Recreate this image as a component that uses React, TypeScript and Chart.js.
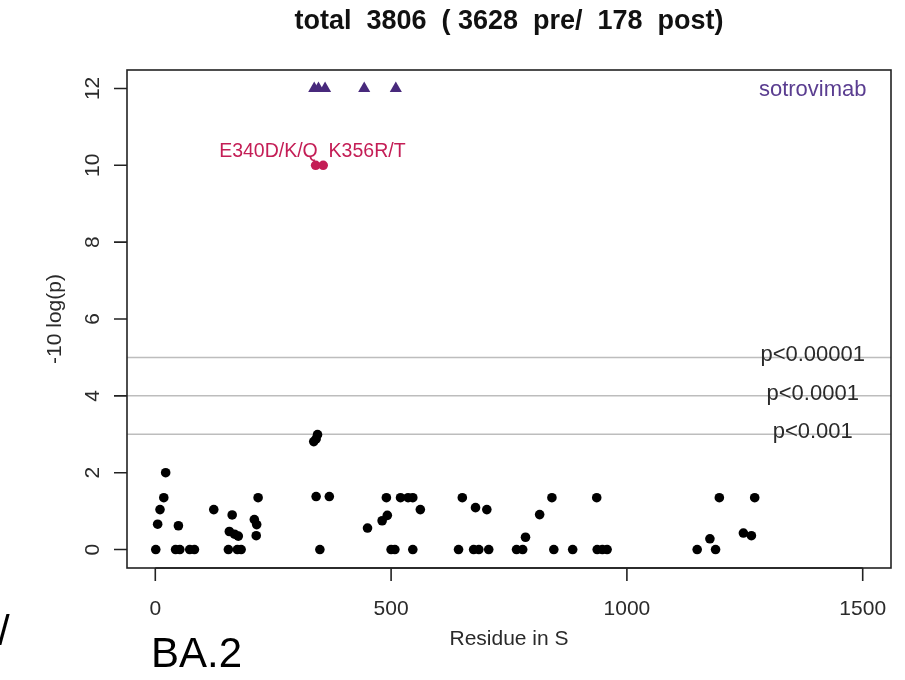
import React, { useEffect, useRef } from "react";
import { Chart, registerables } from "chart.js";

Chart.register(...registerables);

// ---------- data ----------
const titleText = "total  3806  ( 3628  pre/  178  post)";
const xAxisTitle = "Residue in S";
const yAxisTitle = "-10 log(p)";
const xTicks = [0, 500, 1000, 1500];
const yTicks = [0, 2, 4, 6, 8, 10, 12];
const xMin = -60;
const xMax = 1560;
const yMin = -0.48;
const yMax = 12.48;

const thresholdValues = [5, 4, 3];
const thresholdLabels = ["p<0.00001", "p<0.0001", "p<0.001"];
const labelColumnX = 1394;

const blackX = [
  1, 43, 52, 73, 83, 155, 174, 182, 349, 500, 508, 546, 643, 675, 686, 707, 766, 779, 845, 885, 937, 948, 958, 1149, 1188,
  5, 10, 18, 22, 49, 124, 163, 157, 168, 176, 218, 210, 215, 214,
  336, 341, 344, 341, 369, 450, 481, 492, 490, 520, 536, 546, 562,
  651, 679, 703, 785, 815, 841, 936, 1176, 1196, 1247, 1264, 1271,
];
const blackY = [
  0, 0, 0, 0, 0, 0, 0, 0, 0, 0, 0, 0, 0, 0, 0, 0, 0, 0, 0, 0, 0, 0, 0, 0, 0,
  0.66, 1.04, 1.35, 2.0, 0.62, 1.04, 0.9, 0.47, 0.4, 0.35, 1.35, 0.78, 0.65, 0.36,
  2.81, 2.88, 2.99, 1.38, 1.38, 0.56, 0.75, 0.89, 1.35, 1.35, 1.35, 1.35, 1.04,
  1.35, 1.09, 1.04, 0.32, 0.91, 1.35, 1.35, 0.28, 1.35, 0.43, 0.36, 1.35,
];

const redX = [340, 356];
const redY = [10, 10];
const redLabel = "E340D/K/Q  K356R/T";
const redLabelX = 333;

const triX = [337, 346, 360, 443, 510];
const triY = [12, 12, 12, 12, 12];
const antibodyName = "sotrovimab";

const panelLabel = "BA.2";
const edgeLabel = "/";

// ---------- styles ----------
const FONT = "'Liberation Sans', Arial, Helvetica, sans-serif";
const TEXT = "#2a2a2a";
const RED = "#c41e56";
const PURPLE = "#48297c";
const PURPLE_TEXT = "#5a3d90";
const GRID = "#bdbdbd";

const toPts = (xs: number[], ys: number[]) => xs.map((x, i) => ({ x, y: ys[i] }));

const overlay = {
  id: "overlay",
  afterDraw(chart: any) {
    const { ctx, chartArea: a, scales } = chart;
    const xs = scales.x;
    const ys = scales.y;
    ctx.save();

    // box
    ctx.strokeStyle = "#222";
    ctx.lineWidth = 1.6;
    ctx.strokeRect(a.left, a.top, a.right - a.left, a.bottom - a.top);

    // ticks
    ctx.beginPath();
    const xa = xs.getPixelForValue(xTicks[0]);
    const xb = xs.getPixelForValue(xTicks[xTicks.length - 1]);
    ctx.moveTo(xa, a.bottom);
    ctx.lineTo(xb, a.bottom);
    xTicks.forEach((v) => {
      const px = xs.getPixelForValue(v);
      ctx.moveTo(px, a.bottom);
      ctx.lineTo(px, a.bottom + 13);
    });
    yTicks.forEach((v) => {
      const py = ys.getPixelForValue(v);
      ctx.moveTo(a.left, py);
      ctx.lineTo(a.left - 13, py);
    });
    ctx.stroke();

    ctx.fillStyle = TEXT;
    ctx.font = `21px ${FONT}`;
    ctx.textAlign = "center";
    ctx.textBaseline = "middle";
    xTicks.forEach((v) => {
      ctx.fillText(String(v), xs.getPixelForValue(v), a.bottom + 41);
    });
    yTicks.forEach((v) => {
      ctx.save();
      ctx.translate(a.left - 34, ys.getPixelForValue(v));
      ctx.rotate(-Math.PI / 2);
      ctx.fillText(String(v), 0, 0);
      ctx.restore();
    });

    // axis titles
    ctx.fillText(xAxisTitle, (a.left + a.right) / 2, a.bottom + 71);
    ctx.save();
    ctx.translate(a.left - 72, (a.top + a.bottom) / 2);
    ctx.rotate(-Math.PI / 2);
    ctx.fillText(yAxisTitle, 0, 0);
    ctx.restore();

    // title
    ctx.font = `bold 27px ${FONT}`;
    ctx.fillStyle = "#111";
    ctx.fillText(titleText, (a.left + a.right) / 2, 22);

    // threshold labels
    ctx.font = `22px ${FONT}`;
    ctx.fillStyle = TEXT;
    ctx.textBaseline = "alphabetic";
    thresholdValues.forEach((v, i) => {
      ctx.fillText(thresholdLabels[i], xs.getPixelForValue(labelColumnX), ys.getPixelForValue(v) + 4);
    });

    // antibody name
    ctx.textBaseline = "middle";
    ctx.fillStyle = PURPLE_TEXT;
    ctx.fillText(antibodyName, xs.getPixelForValue(labelColumnX), ys.getPixelForValue(12) + 1);

    // mutation label
    ctx.font = `19.5px ${FONT}`;
    ctx.fillStyle = RED;
    ctx.fillText(redLabel, xs.getPixelForValue(redLabelX), ys.getPixelForValue(10) - 14);

    // panel overlay text
    ctx.fillStyle = "#000";
    ctx.textAlign = "left";
    ctx.textBaseline = "alphabetic";
    ctx.font = `42px ${FONT}`;
    ctx.fillText(panelLabel, 151, 667);
    ctx.font = `42px ${FONT}`;
    ctx.fillText(edgeLabel, -2, 645);

    ctx.restore();
  },
};

export default function App() {
  const ref = useRef<HTMLCanvasElement | null>(null);

  useEffect(() => {
    if (!ref.current) return;
    const lineSets = thresholdValues.map((v) => ({
      type: "scatter" as const,
      data: [
        { x: xMin, y: v },
        { x: xMax, y: v },
      ],
      showLine: true,
      borderColor: GRID,
      borderWidth: 1.5,
      pointRadius: 0,
      order: 10,
    }));
    const chart = new Chart(ref.current, {
      type: "scatter",
      data: {
        datasets: [
          ...lineSets,
          {
            data: toPts(blackX, blackY),
            pointRadius: 4.8,
            pointBackgroundColor: "#000",
            pointBorderWidth: 0,
            order: 1,
          },
          {
            data: toPts(redX, redY),
            pointRadius: 4.8,
            pointBackgroundColor: RED,
            pointBorderWidth: 0,
            order: 1,
          },
          {
            data: toPts(triX, triY),
            pointStyle: "triangle",
            pointRadius: 7,
            pointBackgroundColor: PURPLE,
            pointBorderWidth: 0,
            order: 1,
          },
        ] as any,
      },
      options: {
        responsive: false,
        devicePixelRatio: 1,
        animation: false,
        events: [],
        layout: { padding: { left: 127, top: 70, right: 14, bottom: 112 } },
        plugins: { legend: { display: false }, tooltip: { enabled: false }, title: { display: false } },
        scales: {
          x: { type: "linear", min: xMin, max: xMax, display: false },
          y: { type: "linear", min: yMin, max: yMax, display: false },
        },
      },
      plugins: [overlay],
    });
    return () => chart.destroy();
  }, []);

  return (
    <div style={{ position: "absolute", left: 0, top: 0, width: 905, height: 680, background: "#fff", overflow: "hidden" }}>
      <canvas ref={ref} width={905} height={680} style={{ display: "block" }} />
    </div>
  );
}
